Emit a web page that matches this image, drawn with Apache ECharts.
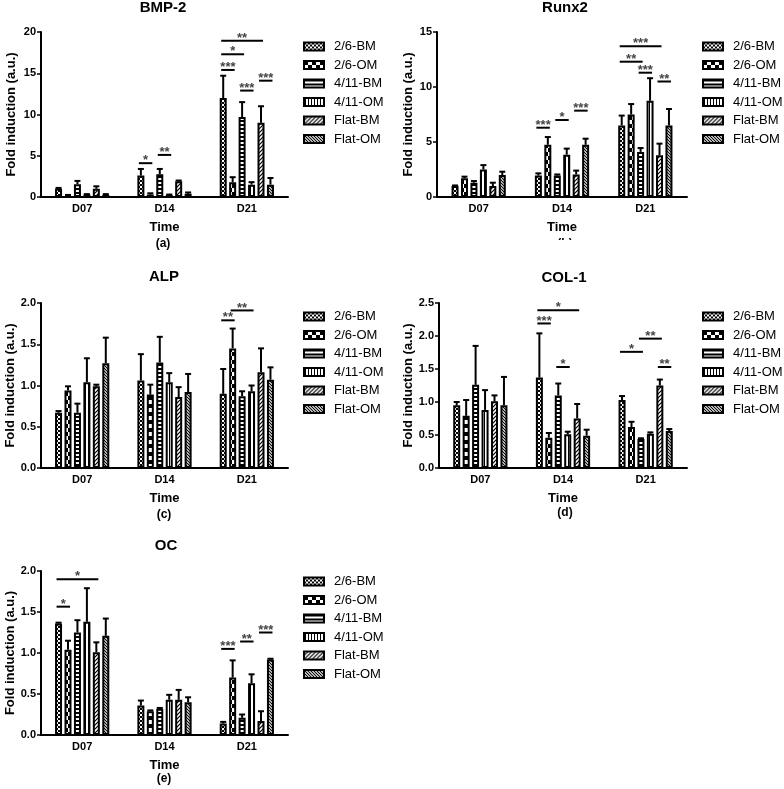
<!DOCTYPE html>
<html><head><meta charset="utf-8">
<script src="https://cdn.jsdelivr.net/npm/echarts@6/dist/echarts.min.js"></script>
<style>html,body{margin:0;padding:0;background:#fff}#c{width:784px;height:789px}</style>
</head><body><div id="c"></div>
<script>
// ---------- DATA ----------
const categories = ['D07', 'D14', 'D21'];
const seriesNames = ['2/6-BM', '2/6-OM', '4/11-BM', '4/11-OM', 'Flat-BM', 'Flat-OM'];

// means per series [D07, D14, D21]; sd = upper error
const bmpMean = [[1.0, 2.6, 12.0], [0.2, 0.3, 1.8], [1.55, 2.75, 9.7], [0.3, 0.25, 1.5], [1.0, 1.9, 9.0], [0.25, 0.4, 1.5]];
const bmpSd   = [[0.1, 0.8, 2.7], [0.05, 0.15, 0.6], [0.4, 0.65, 1.8], [0.05, 0.05, 0.3], [0.3, 0.1, 2.0], [0.1, 0.15, 0.8]];
// annotations: [category, fromBar, toBar, level, stars]
const bmpSig  = [[1, 0, 1, 4.1, 1], [1, 2, 3, 5.1, 2], [2, 0, 4, 18.95, 2], [2, 0, 2, 17.3, 1], [2, 0, 1, 15.4, 3], [2, 2, 3, 12.9, 3], [2, 4, 5, 14.1, 3]];

const runxMean = [[1.0, 1.95, 6.5], [1.7, 4.75, 7.5], [1.3, 1.95, 4.1], [2.5, 3.85, 8.75], [1.0, 2.05, 3.8], [2.0, 4.75, 6.5]];
const runxSd   = [[0.05, 0.2, 0.9], [0.15, 0.7, 0.95], [0.15, 0.1, 0.35], [0.4, 0.55, 2.05], [0.3, 0.35, 1.05], [0.3, 0.55, 1.5]];
const runxSig  = [[1, 0, 1, 6.3, 3], [1, 2, 3, 7.0, 1], [1, 4, 5, 7.85, 3], [2, 0, 4, 13.7, 3], [2, 0, 2, 12.3, 2], [2, 2, 3, 11.3, 3], [2, 4, 5, 10.5, 2]];

const alpMean = [[0.67, 1.06, 0.90], [0.94, 0.89, 1.45], [0.67, 1.28, 0.87], [1.04, 1.04, 0.93], [0.99, 0.86, 1.16], [1.27, 0.92, 1.07]];
const alpSd   = [[0.02, 0.32, 0.30], [0.05, 0.12, 0.24], [0.11, 0.31, 0.06], [0.29, 0.11, 0.07], [0.02, 0.12, 0.29], [0.31, 0.22, 0.15]];
const alpSig  = [[2, 0, 1, 1.79, 2], [2, 1, 3, 1.91, 2]];

const colMean = [[0.95, 1.37, 1.03], [0.79, 0.46, 0.62], [1.26, 1.10, 0.44], [0.88, 0.51, 0.52], [1.01, 0.75, 1.25], [0.95, 0.49, 0.56]];
const colSd   = [[0.05, 0.67, 0.06], [0.24, 0.07, 0.08], [0.59, 0.18, 0.01], [0.30, 0.04, 0.02], [0.09, 0.22, 0.09], [0.43, 0.09, 0.03]];
const colSig  = [[1, 0, 4, 2.39, 1], [1, 0, 1, 2.19, 3], [1, 2, 3, 1.53, 1], [2, 0, 2, 1.76, 1], [2, 2, 4, 1.96, 2], [2, 4, 5, 1.53, 2]];

const ocMean = [[1.36, 0.36, 0.14], [1.04, 0.29, 0.70], [1.25, 0.32, 0.21], [1.38, 0.43, 0.63], [1.01, 0.43, 0.17], [1.21, 0.40, 0.92]];
const ocSd   = [[0.01, 0.06, 0.02], [0.11, 0.01, 0.21], [0.15, 0.01, 0.04], [0.41, 0.06, 0.11], [0.12, 0.12, 0.12], [0.21, 0.06, 0.01]];
const ocSig  = [[0, 0, 4, 1.90, 1], [0, 0, 1, 1.565, 1], [2, 0, 1, 1.05, 3], [2, 2, 3, 1.14, 2], [2, 4, 5, 1.25, 3]];

const yTicks = { bmp: [0, 20, 5], runx: [0, 15, 5], alp: [0, 2, 0.5], col: [0, 2.5, 0.5], oc: [0, 2, 0.5] };

// ---------- STYLE / LAYOUT ----------
const FONT = '"Liberation Sans", Arial, sans-serif';
const BAR_W = 7, BAR_GAP = 0.35, PITCH = BAR_W * (1 + BAR_GAP);

function pat(w, h, draw) {
  const c = document.createElement('canvas'); c.width = w; c.height = h;
  const ctx = c.getContext('2d');
  ctx.fillStyle = '#fff'; ctx.fillRect(0, 0, w, h);
  ctx.fillStyle = '#000'; ctx.strokeStyle = '#000';
  draw(ctx, w, h);
  return { image: c, repeat: 'repeat' };
}
const patterns = [
  pat(4, 4, (x) => { x.fillRect(0, 0, 2, 2); x.fillRect(2, 2, 2, 2); }),
  pat(8, 8, (x) => { x.fillRect(0, 0, 4, 4); x.fillRect(4, 4, 4, 4); }),
  pat(4, 4, (x) => { x.fillRect(0, 0, 4, 2); }),
  pat(3, 4, (x) => { x.fillRect(1, 0, 1, 4); }),
  pat(4, 4, (x, w, h) => { x.lineWidth = 1.2; x.beginPath();
    x.moveTo(-1, 1); x.lineTo(1, -1); x.moveTo(0, h); x.lineTo(w, 0); x.moveTo(w - 1, h + 1); x.lineTo(w + 1, h - 1); x.stroke(); }),
  pat(3, 3, (x, w, h) => { x.lineWidth = 1.1; x.beginPath();
    x.moveTo(-1, h - 1); x.lineTo(1, h + 1); x.moveTo(0, 0); x.lineTo(w, h); x.moveTo(w - 1, -1); x.lineTo(w + 1, 1); x.stroke(); })
];

const panels = [
  { title: 'BMP-2', tag: '(a)', mean: bmpMean, sd: bmpSd, sig: bmpSig, ticks: yTicks.bmp, dec: 0,
    grid: { left: 41, top: 32, width: 247, height: 165 }, nameGap: 23, legend: { left: 303, top: 40 },
    titleXY: [163, 8], tagXY: [163, 244] },
  { title: 'Runx2', tag: '(b)', mean: runxMean, sd: runxSd, sig: runxSig, ticks: yTicks.runx, dec: 0,
    grid: { left: 437, top: 32, width: 250, height: 165 }, nameGap: 22, legend: { left: 702, top: 40 },
    titleXY: [565, 8], tagXY: [565, 244] },
  { title: 'ALP', tag: '(c)', mean: alpMean, sd: alpSd, sig: alpSig, ticks: yTicks.alp, dec: 1,
    grid: { left: 41, top: 303, width: 247, height: 165 }, nameGap: 24, legend: { left: 303, top: 310 },
    titleXY: [164, 277], tagXY: [164, 515] },
  { title: 'COL-1', tag: '(d)', mean: colMean, sd: colSd, sig: colSig, ticks: yTicks.col, dec: 1,
    grid: { left: 439, top: 303, width: 248, height: 165 }, nameGap: 24, legend: { left: 702, top: 310 },
    titleXY: [564, 278], tagXY: [565, 513] },
  { title: 'OC', tag: '(e)', mean: ocMean, sd: ocSd, sig: ocSig, ticks: yTicks.oc, dec: 1,
    grid: { left: 41, top: 571, width: 247, height: 164 }, nameGap: 24, legend: { left: 303, top: 575 },
    titleXY: [166, 546], tagXY: [164, 779] }
];

function errRender(params, api) {
  const cat = api.value(0), s = api.value(1), top = api.value(2), m = api.value(3);
  const pt = api.coord([cat, top]), pb = api.coord([cat, m]);
  const x = pt[0] + (s - 2.5) * PITCH;
  return { type: 'group', children: [
    { type: 'line', shape: { x1: x, y1: pb[1], x2: x, y2: pt[1] }, style: { stroke: '#000', lineWidth: 2 } },
    { type: 'line', shape: { x1: x - 3, y1: pt[1], x2: x + 3, y2: pt[1] }, style: { stroke: '#000', lineWidth: 2 } }
  ] };
}
function sigRender(params, api) {
  const cat = api.value(0), f = api.value(1), t = api.value(2), lv = api.value(3), n = api.value(4);
  const p = api.coord([cat, lv]);
  const x1 = p[0] + (f - 2.5) * PITCH - 2, x2 = p[0] + (t - 2.5) * PITCH + 2;
  return { type: 'group', children: [
    { type: 'line', shape: { x1: x1, y1: p[1], x2: x2, y2: p[1] }, style: { stroke: '#000', lineWidth: 2 } },
    { type: 'text', style: { text: '*'.repeat(n), x: (x1 + x2) / 2, y: p[1] + 4, align: 'center', verticalAlign: 'bottom',
      fill: '#444', font: 'bold 13px ' + FONT } }
  ] };
}

const option = { animation: false, backgroundColor: '#fff', grid: [], xAxis: [], yAxis: [], series: [], legend: [], graphic: [] };

panels.forEach((p, gi) => {
  option.grid.push(Object.assign({ containLabel: false }, p.grid));
  option.xAxis.push({
    type: 'category', gridIndex: gi, data: categories, name: 'Time', nameLocation: 'middle', nameGap: 24,
    nameTextStyle: { fontFamily: FONT, fontWeight: 'bold', fontSize: 13, color: '#000' },
    axisLine: { lineStyle: { color: '#000', width: 2 } },
    axisTick: { alignWithLabel: true, length: 4, lineStyle: { width: 1.5, color: '#000' } },
    axisLabel: { fontFamily: FONT, fontWeight: 'bold', fontSize: 11, color: '#000', margin: 6 },
    splitLine: { show: false }
  });
  option.yAxis.push({
    type: 'value', gridIndex: gi, min: p.ticks[0], max: p.ticks[1], interval: p.ticks[2],
    name: 'Fold induction (a.u.)', nameLocation: 'middle', nameGap: p.nameGap,
    nameTextStyle: { fontFamily: FONT, fontWeight: 'bold', fontSize: 13, color: '#000' },
    axisLine: { show: true, lineStyle: { color: '#000', width: 2 } },
    axisTick: { show: true, length: 4, lineStyle: { width: 1.5, color: '#000' } },
    axisLabel: { fontFamily: FONT, fontWeight: 'bold', fontSize: 11, color: '#000', margin: 5,
      formatter: (v) => v.toFixed(p.dec) },
    splitLine: { show: false }
  });
  const errData = [];
  seriesNames.forEach((name, si) => {
    option.series.push({
      type: 'bar', name: name, xAxisIndex: gi, yAxisIndex: gi, data: p.mean[si],
      barWidth: BAR_W, barGap: (BAR_GAP * 100) + '%', z: 3,
      itemStyle: { color: patterns[si], borderColor: '#000', borderWidth: 2 },
      emphasis: { disabled: true }
    });
    p.mean[si].forEach((m, ci) => errData.push([ci, si, m + p.sd[si][ci], m]));
  });
  option.series.push({ type: 'custom', xAxisIndex: gi, yAxisIndex: gi, renderItem: errRender, data: errData,
    encode: { x: 0, y: 2 }, z: 2, silent: true });
  option.series.push({ type: 'custom', xAxisIndex: gi, yAxisIndex: gi, renderItem: sigRender, data: p.sig,
    encode: { x: 0, y: 3 }, z: 4, silent: true });
  option.legend.push({
    data: seriesNames, orient: 'vertical', left: p.legend.left, top: p.legend.top, padding: 0,
    itemWidth: 20, itemHeight: 8, itemGap: 5.5, icon: 'rect', selectedMode: false,
    itemStyle: { borderColor: '#000', borderWidth: 2 },
    textStyle: { fontFamily: FONT, fontSize: 13, color: '#000', padding: [0, 0, 0, 5] }
  });
});

option.graphic = panels.map((p) => ({ type: 'text', silent: true,
  style: { text: p.title, x: p.titleXY[0], y: p.titleXY[1], align: 'center', verticalAlign: 'middle',
    font: 'bold 15px ' + FONT, fill: '#000' } }));
panels.forEach((p) => option.graphic.push({ type: 'text', silent: true,
  style: { text: p.tag, x: p.tagXY[0], y: p.tagXY[1], align: 'center', verticalAlign: 'middle',
    font: 'bold 12px ' + FONT, fill: '#000' } }));
// panel (b)'s tag is partly hidden in the figure
option.graphic.push({ type: 'rect', silent: true, shape: { x: 540, y: 240, width: 50, height: 14 }, style: { fill: '#fff' } });

const chart = echarts.init(document.getElementById('c'), null, { renderer: 'canvas' });
chart.setOption(option);
</script>
</body></html>
